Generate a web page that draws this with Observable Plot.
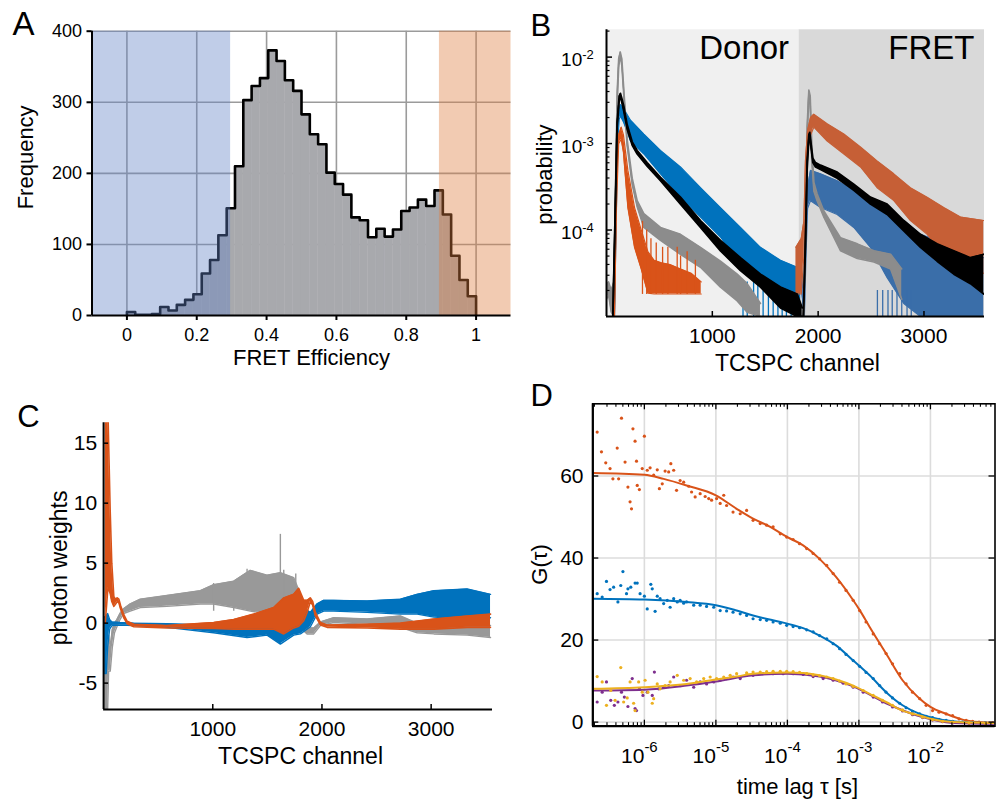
<!DOCTYPE html>
<html>
<head>
<meta charset="utf-8">
<script src="https://cdn.jsdelivr.net/npm/d3@7"></script>
<script src="https://cdn.jsdelivr.net/npm/@observablehq/plot@0.6"></script>
<style>
  html, body { margin: 0; padding: 0; background: #fff; }
  #fig { position: relative; width: 996px; height: 802px; overflow: hidden; background: #fff; }
  .panel { position: absolute; }
</style>
</head>
<body>
<div id="fig"></div>
<script>
const FONT = '"Liberation Sans", Arial, Helvetica, sans-serif';

// ---------------- Panel A: FRET efficiency histogram ----------------
const effBinWidth = 1 / 42;
const effCounts = [5, 1, 1, 2, 12, 7, 15, 22, 30, 59, 78, 113, 151, 210, 303, 323, 334, 373, 358, 331, 316,
  283, 255, 241, 201, 185, 170, 138, 134, 110, 122, 111, 121, 147, 152, 163, 154, 176, 142, 84, 50, 27];
const effTicks = [0, 0.2, 0.4, 0.6, 0.8, 1];
const effTickLabels = ["0", "0.2", "0.4", "0.6", "0.8", "1"];
const freqTicks = [0, 100, 200, 300, 400];
const shadeLow = [-0.1, 0.297];   // donor-only selection
const shadeHigh = [0.895, 1.1];   // high-FRET selection

// ---------------- Panel B: TCSPC decays (log10 probability bands) ----------------
const bRegionNames = ["Donor", "FRET"];
const bRegionStart = [0, 1820];
const bRegionEnd = [1820, 3572];
const bXTicks = [1000, 2000, 3000];
const bYTickExp = [-2, -3, -4];

const grayDonorCh = [0, 20, 45, 69, 85, 101, 115, 130, 145, 164, 195, 243, 290, 353, 510, 699, 888, 1077, 1235, 1329, 1455];
const grayDonorLo = [-4.80, -4.75, -4.95, -5.0, -3.70, -2.55, -2.12, -1.97, -2.10, -2.45, -3.02, -3.47, -3.73, -3.97, -4.12, -4.28, -4.43, -4.66, -4.82, -4.95, -5.0];
const grayDonorHi = [-4.62, -4.60, -4.70, -4.60, -3.50, -2.40, -2.02, -1.94, -2.02, -2.38, -2.95, -3.40, -3.66, -3.81, -3.97, -4.05, -4.20, -4.36, -4.51, -4.62, -4.85];
const grayFretCh = [1865, 1880, 1896, 1912, 1925, 1940, 1960, 1990, 2054, 2212, 2370, 2527, 2685, 2790];
const grayFretLo = [-5.0, -4.2, -3.0, -2.42, -2.55, -3.2, -3.55, -3.66, -3.85, -4.24, -4.33, -4.37, -4.45, -4.8];
const grayFretHi = [-4.9, -3.9, -2.8, -2.38, -2.45, -3.0, -3.45, -3.58, -3.78, -4.09, -4.16, -4.24, -4.28, -4.45];

const blackDonorCh = [60, 80, 100, 120, 132, 148, 164, 195, 243, 290, 384, 510, 699, 888, 1077, 1266, 1455, 1644, 1802, 1849];
const blackDonorLo = [-5.0, -4.0, -2.82, -2.5, -2.46, -2.54, -2.63, -2.83, -3.02, -3.12, -3.26, -3.43, -3.70, -3.97, -4.24, -4.47, -4.66, -4.90, -5.0, -5.0];
const blackDonorHi = [-5.0, -3.9, -2.76, -2.45, -2.42, -2.49, -2.57, -2.78, -2.98, -3.08, -3.22, -3.39, -3.62, -3.89, -4.12, -4.32, -4.51, -4.66, -4.74, -4.9];
const blackFretCh = [1860, 1880, 1896, 1912, 1921, 1935, 1950, 1975, 2022, 2180, 2337, 2494, 2652, 2809, 2967, 3124, 3282, 3439, 3565];
const blackFretLo = [-5.0, -4.2, -3.3, -2.95, -2.91, -3.07, -3.22, -3.27, -3.30, -3.40, -3.54, -3.70, -3.82, -4.01, -4.20, -4.36, -4.51, -4.62, -4.74];
const blackFretHi = [-5.0, -4.1, -3.2, -2.90, -2.87, -3.02, -3.17, -3.22, -3.25, -3.33, -3.47, -3.62, -3.70, -3.89, -4.05, -4.16, -4.24, -4.32, -4.28];

const blueDonorCh = [75, 90, 105, 120, 132, 164, 227, 353, 510, 699, 888, 1077, 1266, 1455, 1644, 1802, 1835];
const blueDonorLo = [-5.0, -4.0, -3.0, -2.72, -2.68, -2.76, -2.97, -3.12, -3.35, -3.62, -3.85, -4.08, -4.40, -4.60, -4.78, -4.88, -5.0];
const blueDonorHi = [-5.0, -3.8, -2.85, -2.60, -2.55, -2.60, -2.73, -2.89, -3.08, -3.27, -3.51, -3.74, -3.97, -4.20, -4.35, -4.43, -4.5];
const blueDonorDropCh = [1290, 1330, 1390, 1430, 1480, 1530, 1575, 1620, 1660, 1700, 1745, 1790];
const blueFretCh = [1835, 1870, 1885, 1900, 1928, 2022, 2180, 2337, 2494, 2652, 2809, 2967, 3124, 3282, 3439, 3565];
const blueFretLo = [-4.6, -5.0, -4.3, -3.75, -3.66, -3.74, -3.82, -3.97, -4.20, -4.55, -4.85, -5.0, -5.0, -5.0, -5.0, -5.0];
const blueFretHi = [-4.4, -4.9, -4.1, -3.5, -3.31, -3.35, -3.43, -3.54, -3.66, -3.81, -3.89, -4.05, -4.12, -4.20, -4.28, -4.32];
const blueFretDropCh = [2560, 2610, 2660, 2700, 2745, 2790, 2840, 2880];

const orangeDonorCh = [75, 95, 115, 139, 160, 202, 265, 328, 391, 450, 520, 600, 700, 800, 895];
const orangeDonorLo = [-5.0, -3.7, -3.0, -2.95, -3.10, -3.74, -4.2, -4.45, -4.73, -4.74, -4.74, -4.74, -4.74, -4.74, -4.74];
const orangeDonorHi = [-5.0, -3.4, -2.9, -2.81, -2.90, -3.31, -3.74, -4.0, -4.25, -4.35, -4.38, -4.40, -4.45, -4.5, -4.6];
const orangeDonorSpikeCh = [340, 380, 420, 470, 530, 580, 668, 700, 762, 840];
const orangeDonorSpikeTop = [-3.9, -4.0, -4.1, -4.15, -4.2, -4.2, -4.2, -4.3, -4.25, -4.35];
const orangeFretCh = [1790, 1840, 1865, 1880, 1900, 1928, 1959, 2085, 2243, 2400, 2557, 2715, 2872, 3030, 3187, 3345, 3565];
const orangeFretLo = [-4.74, -4.74, -4.3, -3.6, -3.1, -2.9, -2.81, -2.97, -3.12, -3.27, -3.51, -3.66, -3.89, -4.05, -4.28, -4.43, -4.5];
const orangeFretHi = [-4.2, -4.1, -3.9, -3.2, -2.85, -2.7, -2.66, -2.77, -2.89, -3.04, -3.20, -3.35, -3.51, -3.62, -3.74, -3.85, -3.89];

// ---------------- Panel C: photon weights ----------------
const cXTicks = [1000, 2000, 3000];
const cYTicks = [-5, 0, 5, 10, 15];

const cGrayCh = [10, 24, 37, 46, 61, 80, 100, 122, 150, 183, 244, 336, 580, 886, 1008, 1192, 1344, 1497, 1619, 1741, 1803, 1864, 1925, 1986, 2108, 2414, 2719, 2872, 3025, 3330, 3544];
const cGrayLo = [-7.2, -7.2, -7.2, -4, -4, -2, -0.8, -0.3, 0.3, 0.8, 1.0, 1.3, 1.4, 1.6, 1.6, 1.3, 1.0, 0.8, 0.5, 0.2, -0.4, -0.9, -0.9, -0.2, 0.05, -0.1, -0.35, -0.8, -0.9, -1.0, -1.2];
const cGrayHi = [0, -1, -3, -1, -2, -0.5, 0, 0.3, 0.8, 1.2, 1.6, 2.0, 2.3, 2.7, 3.2, 3.5, 4.4, 4.0, 4.2, 3.8, 2.4, -0.4, -0.4, 0.1, 0.45, 0.35, 0.6, 0, -0.2, -0.2, -0.2];
const cGraySpikeCh = [1008, 1192, 1314, 1405, 1497, 1619, 1650, 1760];
const cGraySpikeTop = [3.3, 3.0, 4.5, 4.1, 3.9, 7.4, 4.4, 4.1];

const cBlueCh = [10, 24, 37, 55, 76, 150, 275, 580, 1008, 1314, 1497, 1619, 1741, 1803, 1894, 1955, 2016, 2108, 2414, 2719, 2872, 3025, 3330, 3544];
const cBlueLo = [-4.2, -4.2, -2, -0.5, -0.2, -0.15, -0.2, -0.35, -0.8, -1.2, -1.0, -1.75, -1.0, -0.9, -0.3, 0.75, 1.0, 1.0, 0.9, 0.75, 0.75, 0.5, 0.35, 0.45];
const cBlueHi = [0.5, 0.6, 0.8, 0.3, 0.1, 0.05, 0, -0.05, -0.2, -0.1, 0.1, 0.2, 0.8, 1.4, 0.9, 1.6, 1.9, 1.9, 1.85, 2.0, 2.4, 2.7, 2.85, 2.4];

const cOrangeCh = [15, 40, 60, 75, 94, 110, 125, 140, 155, 185, 216, 277, 580, 1008, 1192, 1375, 1558, 1650, 1741, 1787, 1833, 1864, 1894, 1915, 1940, 1986, 2047, 2414, 2719, 3025, 3330, 3544];
const cOrangeLo = [0, 3, 2.5, 1.8, 1.4, 1.6, 1.8, 1.7, 1.2, 0.45, -0.05, -0.3, -0.4, -0.45, -0.5, -0.5, -0.5, -0.9, -0.4, -0.25, 0.2, 0.9, 1.8, 1.5, 0.6, -0.15, -0.35, -0.4, -0.5, -0.5, -0.35, -0.35];
const cOrangeHi = [17.5, 17.5, 9.5, 5, 2.2, 2.0, 2.1, 2.0, 1.5, 0.7, 0.15, -0.1, -0.2, 0.05, 0.3, 0.75, 1.3, 2.1, 2.4, 2.9, 1.9, 1.9, 2.1, 1.8, 0.9, 0.05, -0.15, -0.1, 0, 0.35, 0.6, 0.75];

// ---------------- Panel D: correlation curves (log10 lag time, G) ----------------
const dXTickExp = [-6, -5, -4, -3, -2];
const dYTicks = [0, 20, 40, 60];

const orangeFitLogTau = [-6.72, -6.0, -5.73, -5.41, -5.0, -4.71, -4.48, -4.24, -4.0, -3.78, -3.55, -3.32, -3.08, -3.0, -2.85, -2.62, -2.39, -2.15, -2.0, -1.78, -1.55, -1.32, -1.1];
const orangeFitG = [60.7, 60.3, 59.3, 57.7, 55.3, 52.0, 49.6, 47.6, 45.1, 43.1, 39.8, 35.4, 29.7, 27.6, 23.2, 16.7, 10.2, 5.7, 3.7, 2.0, 0.6, 0, -0.2];
const blueFitLogTau = [-6.72, -6.0, -5.41, -5.0, -4.71, -4.48, -4.0, -3.78, -3.55, -3.32, -3.08, -3.0, -2.85, -2.62, -2.39, -2.15, -2.0, -1.69, -1.32, -1.1];
const blueFitG = [30.1, 29.9, 29.3, 28.5, 27.2, 26.0, 24.0, 22.9, 21.1, 18.7, 15.0, 13.8, 11.4, 7.3, 4.1, 2.0, 1.2, 0.2, -0.15, -0.2];
const yellowFitLogTau = [-6.72, -6.0, -5.64, -5.41, -5.0, -4.71, -4.48, -4.0, -3.78, -3.55, -3.32, -3.08, -2.85, -2.62, -2.39, -2.15, -2.0, -1.69, -1.1];
const yellowFitG = [8.1, 8.5, 8.9, 9.3, 10.4, 11.1, 11.8, 12.1, 12.0, 11.4, 10.4, 8.9, 6.9, 4.9, 2.8, 1.6, 0.8, 0, -0.2];
const purpleFitLogTau = [-6.72, -6.0, -5.41, -5.0, -4.48, -4.0, -3.55, -3.08, -2.62, -2.15, -1.69, -1.1];
const purpleFitG = [7.7, 7.9, 8.9, 9.9, 11.4, 11.8, 11.1, 8.7, 4.6, 1.4, -0.2, -0.4];

const orangeDotLogTau = [-6.66, -6.60, -6.54, -6.48, -6.44, -6.38, -6.36, -6.32, -6.27, -6.23, -6.20, -6.18, -6.16, -6.13, -6.11, -6.10, -6.07, -6.00, -6.03, -5.96, -5.92, -5.87, -5.82, -5.79, -5.75, -5.71, -5.66, -5.63, -5.59, -5.55, -5.50, -5.45, -5.38, -5.34, -5.29, -5.22, -5.15, -5.10, -5.06, -4.99, -4.94, -4.89, -4.85, -4.76, -4.66, -4.57, -4.48, -4.38, -4.29, -4.20, -4.10, -4.01, -3.92, -3.83, -3.73, -3.64, -3.55, -3.45, -3.36, -3.27, -3.18, -3.08, -2.99, -2.90, -2.80, -2.71, -2.62, -2.53, -2.43, -2.34, -2.25, -2.15, -2.06, -1.97, -1.88, -1.78, -1.69, -1.60, -1.50, -1.41, -1.32, -1.23, -1.13];
const orangeDotG = [70.7, 65.9, 63.2, 61.8, 59.3, 66.8, 59.3, 74.1, 63.4, 57.3, 53.7, 52.0, 71.5, 68.5, 63.6, 57.7, 56.7, 69.7, 61.8, 61.4, 62.0, 60.2, 61.5, 56.9, 58.1, 61.2, 61.0, 63.0, 61.4, 56.5, 58.9, 58.5, 57.5, 56.1, 54.9, 55.7, 55.0, 54.5, 54.1, 54.5, 53.3, 55.3, 52.8, 51.2, 50.8, 51.6, 49.2, 48.4, 48.0, 47.6, 45.9, 45.1, 44.5, 43.5, 42.3, 41.1, 39.8, 38.2, 36.2, 34.1, 32.1, 29.7, 27.2, 24.4, 21.5, 19.1, 16.7, 14.2, 11.8, 9.3, 7.3, 5.7, 4.1, 2.8, 2.4, 2.0, 1.6, 0.8, 0.4, 0.2, 0, -0.1, -0.2];
const blueDotLogTau = [-6.66, -6.59, -6.53, -6.48, -6.43, -6.37, -6.33, -6.30, -6.25, -6.23, -6.19, -6.13, -6.10, -6.06, -6.00, -5.96, -5.91, -5.89, -5.85, -5.82, -5.78, -5.73, -5.68, -5.64, -5.59, -5.54, -5.50, -5.45, -5.41, -5.31, -5.22, -5.13, -5.03, -4.94, -4.85, -4.76, -4.66, -4.57, -4.48, -4.38, -4.29, -4.20, -4.10, -4.01, -3.92, -3.83, -3.73, -3.64, -3.55, -3.45, -3.36, -3.27, -3.18, -3.08, -2.99, -2.90, -2.80, -2.71, -2.62, -2.53, -2.43, -2.34, -2.25, -2.15, -2.06, -1.97, -1.88, -1.78, -1.69, -1.55, -1.41, -1.23];
const blueDotG = [31.3, 30.5, 34.3, 32.3, 32.9, 29.3, 33.3, 36.7, 31.3, 32.5, 32.9, 33.9, 33.9, 31.3, 30.7, 27.6, 33.6, 32.5, 27.0, 30.7, 30.1, 28.9, 29.7, 28.0, 30.1, 29.3, 29.7, 29.0, 29.3, 28.5, 28.5, 28.2, 28.0, 27.2, 27.1, 26.8, 26.4, 26.0, 25.2, 25.0, 24.8, 24.4, 24.1, 23.6, 23.3, 23.0, 22.5, 22.0, 21.1, 20.3, 19.1, 17.9, 16.5, 15.0, 13.6, 12.1, 10.6, 8.9, 7.3, 5.9, 4.6, 3.5, 2.6, 2.0, 1.4, 1.1, 0.7, 0.4, 0.2, 0, -0.2, -0.2];
const yellowDotLogTau = [-6.66, -6.59, -6.53, -6.47, -6.41, -6.33, -6.29, -6.24, -6.20, -6.15, -6.13, -6.08, -6.03, -5.99, -5.95, -5.89, -5.87, -5.82, -5.78, -5.71, -5.64, -5.54, -5.45, -5.36, -5.27, -5.17, -5.08, -4.99, -4.89, -4.80, -4.71, -4.57, -4.48, -4.38, -4.29, -4.20, -4.10, -4.01, -3.92, -3.83, -3.73, -3.64, -3.55, -3.45, -3.36, -3.27, -3.18, -3.08, -2.94, -2.80, -2.67, -2.53, -2.39, -2.25, -2.11, -1.97, -1.83, -1.69, -1.46, -1.23];
const yellowDotG = [11.1, 9.8, 4.1, 7.7, 5.3, 13.3, 4.9, 5.9, 9.8, 4.6, 2.8, 9.8, 7.3, 10.2, 7.3, 4.6, 5.7, 9.3, 8.1, 8.9, 9.8, 11.4, 10.2, 10.6, 9.8, 10.6, 11.0, 10.6, 11.0, 11.4, 11.8, 12.0, 12.2, 12.2, 12.3, 12.4, 12.4, 12.4, 12.3, 12.1, 11.8, 11.5, 11.3, 11.0, 10.6, 10.0, 9.3, 8.7, 7.7, 6.5, 5.3, 4.1, 3.0, 2.0, 1.2, 0.6, 0.2, 0, -0.2, -0.3];
const purpleDotLogTau = [-6.66, -6.59, -6.53, -6.47, -6.42, -6.37, -6.32, -6.28, -6.23, -6.17, -6.13, -6.11, -6.07, -6.02, -5.96, -5.89, -5.86, -5.80, -5.73, -5.66, -5.59, -5.50, -5.41, -5.31, -5.22, -5.13, -5.03, -4.94, -4.85, -4.76, -4.66, -4.57, -4.48, -4.34, -4.20, -4.06, -3.92, -3.78, -3.64, -3.50, -3.36, -3.22, -3.08, -2.94, -2.80, -2.67, -2.53, -2.39, -2.25, -2.11, -1.97, -1.83, -1.69, -1.46, -1.23];
const purpleDotG = [4.9, 7.3, 9.8, 5.3, 4.1, 4.9, 7.3, 6.1, 3.8, 10.6, 3.3, 2.8, 8.1, 6.5, 7.3, 6.5, 12.2, 8.1, 8.5, 8.9, 11.0, 8.9, 10.2, 8.5, 9.8, 9.3, 9.8, 10.2, 10.6, 11.0, 10.6, 11.4, 11.4, 11.8, 11.8, 11.8, 11.8, 11.6, 11.1, 10.6, 10.2, 9.5, 8.5, 7.3, 6.1, 4.9, 3.7, 2.7, 1.8, 1.1, 0.5, 0.1, -0.2, -0.3, -0.4];

// ---------------- colours ----------------
const C_ORANGE = "#d95319", C_BLUE = "#0072bd", C_YELLOW = "#edb120", C_PURPLE = "#7e2f8e";
const C_ORANGE_FRET = "#c65f36", C_BLUE_FRET = "#3a6ea9", C_GRAY = "#8c8c8c";

// ---------------- helpers ----------------
const fig = document.getElementById("fig");
function place(node, left, top) {
  const d = document.createElement("div");
  d.className = "panel";
  d.style.left = left + "px";
  d.style.top = top + "px";
  d.appendChild(node);
  fig.appendChild(d);
}
function band(ch, lo, hi, map = v => v) {
  return ch.map((c, i) => ({ch: c, lo: map(lo[i]), hi: map(hi[i])}));
}
function bandMarks(rows, color, edge) {
  return [
    Plot.areaY(rows, {x: "ch", y1: "lo", y2: "hi", fill: color, clip: true}),
    Plot.line(rows, {x: "ch", y: "lo", stroke: color, strokeWidth: edge, clip: true}),
    Plot.line(rows, {x: "ch", y: "hi", stroke: color, strokeWidth: edge, clip: true})
  ];
}
function pts(xs, ys) { return xs.map((x, i) => ({tau: 10 ** x, g: ys[i]})); }
const pow10 = e => 10 ** e;
const baseStyle = {fontFamily: FONT, background: "transparent", overflow: "visible", color: "#000"};

// ================= Panel A =================
{
  const W = 520, H = 380, mL = 91.5, mR = 9.5, mT = 30.7, mB = 65;
  const pw = W - mL - mR, ph = H - mT - mB;
  const hist = effCounts.map((n, k) => ({x1: k * effBinWidth, x2: (k + 1) * effBinWidth, n}));
  const outline = [{x: 0, y: 0}, ...effCounts.map((n, k) => ({x: k * effBinWidth, y: n})), {x: effCounts.length * effBinWidth, y: 0}];
  const svg = Plot.plot({
    width: W, height: H, marginLeft: mL, marginRight: mR, marginTop: mT, marginBottom: mB,
    style: baseStyle,
    x: {domain: [-0.1, 1.1], axis: null},
    y: {domain: [0, 400], axis: null},
    marks: [
      Plot.ruleX(effTicks, {stroke: "#9b9b9b", strokeWidth: 1.6}),
      Plot.ruleY(freqTicks.slice(1), {stroke: "#9b9b9b", strokeWidth: 1.6}),
      Plot.rectY(hist, {x1: "x1", x2: "x2", y: "n", fill: "#a8a9ad", stroke: "#a8a9ad", strokeWidth: 0.4, insetLeft: 0, insetRight: 0}),
      Plot.line(outline, {x: "x", y: "y", curve: "step-after", stroke: "#000", strokeWidth: 2.6}),
      Plot.rect([shadeLow], {x1: d => d[0], x2: d => d[1], fill: "#6182c5", fillOpacity: 0.4}),
      Plot.rect([shadeHigh], {x1: d => d[0], x2: d => d[1], fill: "#de7d3e", fillOpacity: 0.4}),
      Plot.ruleX([-0.1], {stroke: "#000", strokeWidth: 2}),
      Plot.ruleY([0], {stroke: "#000", strokeWidth: 2}),
      Plot.tickX(effTicks, {x: d => d, insetTop: ph, insetBottom: -5, stroke: "#000", strokeWidth: 2}),
      Plot.tickY(freqTicks, {y: d => d, insetRight: pw, insetLeft: -5, stroke: "#000", strokeWidth: 2}),
      Plot.text(effTicks, {x: d => d, text: (d, i) => effTickLabels[i], frameAnchor: "bottom", lineAnchor: "bottom", dy: 25, fontSize: 18}),
      Plot.text(freqTicks, {y: d => d, text: d => String(d), frameAnchor: "left", textAnchor: "end", dx: -10, fontSize: 18}),
      Plot.text(["FRET Efficiency"], {frameAnchor: "bottom", textAnchor: "middle", lineAnchor: "bottom", dx: 10, dy: 49, fontSize: 22}),
      Plot.text(["Frequency"], {frameAnchor: "left", textAnchor: "middle", lineAnchor: "bottom", rotate: -90, dx: -59, dy: -16, fontSize: 22}),
      Plot.text(["A"], {frameAnchor: "top-left", textAnchor: "start", lineAnchor: "bottom", dx: -79.5, dy: 3.3, fontSize: 33})
    ]
  });
  place(svg, 0, 0);
}

// ================= Panel B =================
{
  const W = 476, H = 380, mL = 86, mR = 12, mT = 29.3, mB = 64;
  const pw = W - mL - mR, ph = H - mT - mB;
  const yMax = 0.0207;
  const regions = bRegionNames.map((name, i) => ({name, start: bRegionStart[i], end: bRegionEnd[i]}));
  const minor = [];
  for (const e of [-5, -4, -3, -2]) for (let m = 2; m <= 9; m++) { const v = m * 10 ** e; if (v < yMax) minor.push(v); }
  const blueDonor = band(blueDonorCh, blueDonorLo, blueDonorHi, pow10);
  const blueFret = band(blueFretCh, blueFretLo, blueFretHi, pow10);
  const orangeSpikes = orangeDonorSpikeCh.map((c, i) => ({ch: c, top: pow10(orangeDonorSpikeTop[i])}));
  const svg = Plot.plot({
    width: W, height: H, marginLeft: mL, marginRight: mR, marginTop: mT, marginBottom: mB,
    style: baseStyle,
    x: {domain: [0, 3572], axis: null},
    y: {type: "log", domain: [1e-5, yMax], axis: null},
    marks: [
      Plot.rect(regions.slice(0, 1), {x1: "start", x2: "end", fill: "#f0f0f0"}),
      Plot.rect(regions.slice(1), {x1: "start", x2: "end", fill: "#d9d9d9"}),
      ...bandMarks(blueDonor, C_BLUE, 1.2),
      Plot.ruleX(blueDonorDropCh, {x: d => d, y1: 1e-5, y2: 2.5e-5, stroke: C_BLUE, strokeWidth: 1.3}),
      ...bandMarks(blueFret, C_BLUE_FRET, 1.2),
      Plot.ruleX(blueFretDropCh, {x: d => d, y1: 1e-5, y2: 2e-5, stroke: C_BLUE_FRET, strokeWidth: 1.3}),
      ...bandMarks(band(grayDonorCh, grayDonorLo, grayDonorHi, pow10), C_GRAY, 1.6),
      ...bandMarks(band(grayFretCh, grayFretLo, grayFretHi, pow10), C_GRAY, 1.6),
      ...bandMarks(band(orangeDonorCh, orangeDonorLo, orangeDonorHi, pow10), C_ORANGE, 1.2),
      Plot.ruleX(orangeSpikes, {x: "ch", y1: 1.8e-5, y2: "top", stroke: C_ORANGE, strokeWidth: 1.3}),
      ...bandMarks(band(orangeFretCh, orangeFretLo, orangeFretHi, pow10), C_ORANGE_FRET, 1.2),
      ...bandMarks(band(blackDonorCh, blackDonorLo, blackDonorHi, pow10), "#000", 1.8),
      ...bandMarks(band(blackFretCh, blackFretLo, blackFretHi, pow10), "#000", 1.8),
      Plot.text(regions, {x: "end", text: "name", frameAnchor: "top", textAnchor: "end", lineAnchor: "bottom", dx: -10, dy: 29, fontSize: 33}),
      Plot.ruleX([0], {stroke: "#000", strokeWidth: 2}),
      Plot.ruleY([1e-5], {stroke: "#000", strokeWidth: 2}),
      Plot.tickY(bYTickExp.map(pow10), {y: d => d, insetLeft: 0, insetRight: pw - 6, stroke: "#000", strokeWidth: 1.5}),
      Plot.tickY(minor, {y: d => d, insetLeft: 0, insetRight: pw - 3.5, stroke: "#000", strokeWidth: 1.2}),
      Plot.tickX(bXTicks, {x: d => d, insetTop: ph - 5, stroke: "#000", strokeWidth: 1.5}),
      Plot.text(bXTicks, {x: d => d, text: d => String(d), frameAnchor: "bottom", lineAnchor: "bottom", dy: 26, fontSize: 21}),
      Plot.text(bYTickExp, {y: pow10, text: () => "10", frameAnchor: "left", textAnchor: "end", lineAnchor: "bottom", dx: -24.3, dy: 9, fontSize: 19}),
      Plot.text(bYTickExp, {y: pow10, text: d => String(d), frameAnchor: "left", textAnchor: "start", lineAnchor: "bottom", dx: -24.3, dy: 2, fontSize: 13}),
      Plot.text(["TCSPC channel"], {frameAnchor: "bottom", textAnchor: "middle", lineAnchor: "bottom", dx: 2, dy: 54, fontSize: 23}),
      Plot.text(["probability"], {frameAnchor: "left", textAnchor: "middle", lineAnchor: "bottom", rotate: -90, dx: -55, dy: 1.5, fontSize: 22}),
      Plot.text(["B"], {frameAnchor: "top-left", textAnchor: "start", lineAnchor: "bottom", dx: -76, dy: 5.7, fontSize: 31})
    ]
  });
  place(svg, 520, 0);
}

// ================= Panel C =================
{
  const W = 520, H = 422, mL = 103.1, mR = 28, mT = 42.3, mB = 93;
  const pw = W - mL - mR, ph = H - mT - mB;
  const spikes = cGraySpikeCh.map((c, i) => ({ch: c, top: cGraySpikeTop[i]}));
  const svg = Plot.plot({
    width: W, height: H, marginLeft: mL, marginRight: mR, marginTop: mT, marginBottom: mB,
    style: baseStyle,
    x: {domain: [0, 3562], axis: null},
    y: {domain: [-7.2, 16.7], axis: null},
    marks: [
      ...bandMarks(band(cGrayCh, cGrayLo, cGrayHi), "#999999", 1.4),
      Plot.ruleX(spikes, {x: "ch", y1: 1, y2: "top", stroke: "#999999", strokeWidth: 1.4, clip: true}),
      ...bandMarks(band(cBlueCh, cBlueLo, cBlueHi), C_BLUE, 1.4),
      ...bandMarks(band(cOrangeCh, cOrangeLo, cOrangeHi), C_ORANGE, 1.6),
      Plot.ruleX([0], {stroke: "#000", strokeWidth: 2}),
      Plot.ruleY([-7.2], {stroke: "#000", strokeWidth: 2}),
      Plot.tickY(cYTicks, {y: d => d, insetLeft: 0, insetRight: pw - 5, stroke: "#000", strokeWidth: 1.5}),
      Plot.tickX(cXTicks, {x: d => d, insetTop: ph - 5, stroke: "#000", strokeWidth: 1.5}),
      Plot.text(cXTicks, {x: d => d, text: d => String(d), frameAnchor: "bottom", lineAnchor: "bottom", dy: 26, fontSize: 21}),
      Plot.text(cYTicks, {y: d => d, text: d => String(d), frameAnchor: "left", textAnchor: "end", dx: -6.4, fontSize: 21}),
      Plot.text(["TCSPC channel"], {frameAnchor: "bottom", textAnchor: "middle", lineAnchor: "bottom", dx: 2.5, dy: 54, fontSize: 23}),
      Plot.text(["photon weights"], {frameAnchor: "left", textAnchor: "middle", lineAnchor: "bottom", rotate: -90, dx: -37, dy: 1.8, fontSize: 23}),
      Plot.text(["C"], {frameAnchor: "top-left", textAnchor: "start", lineAnchor: "bottom", dx: -86.4, dy: 4.4, fontSize: 31})
    ]
  });
  place(svg, 0, 380);
}

// ================= Panel D =================
{
  const W = 476, H = 422, mL = 72.3, mR = 1.5, mT = 23.3, mB = 76.3;
  const pw = W - mL - mR, ph = H - mT - mB;
  const xDom = [1.9e-7, 0.08];
  const minor = [];
  for (const e of [-7, -6, -5, -4, -3, -2]) for (let m = 2; m <= 9; m++) { const v = m * 10 ** e; if (v > xDom[0] && v < xDom[1]) minor.push(v); }
  const major = dXTickExp.map(pow10);
  const svg = Plot.plot({
    width: W, height: H, marginLeft: mL, marginRight: mR, marginTop: mT, marginBottom: mB,
    style: baseStyle,
    x: {type: "log", domain: xDom, axis: null},
    y: {domain: [-1, 77.6], axis: null},
    marks: [
      Plot.ruleX(major, {stroke: "#dcdcdc", strokeWidth: 1.6}),
      Plot.ruleY(dYTicks, {stroke: "#dcdcdc", strokeWidth: 1.6}),
      Plot.dot(pts(orangeDotLogTau, orangeDotG), {x: "tau", y: "g", r: 1.6, fill: C_ORANGE, stroke: null, clip: true}),
      Plot.line(pts(orangeFitLogTau, orangeFitG), {x: "tau", y: "g", stroke: C_ORANGE, strokeWidth: 2, curve: "monotone-x", clip: true}),
      Plot.dot(pts(blueDotLogTau, blueDotG), {x: "tau", y: "g", r: 1.6, fill: C_BLUE, stroke: null, clip: true}),
      Plot.line(pts(blueFitLogTau, blueFitG), {x: "tau", y: "g", stroke: C_BLUE, strokeWidth: 2, curve: "monotone-x", clip: true}),
      Plot.dot(pts(purpleDotLogTau, purpleDotG), {x: "tau", y: "g", r: 1.6, fill: C_PURPLE, stroke: null, clip: true}),
      Plot.line(pts(purpleFitLogTau, purpleFitG), {x: "tau", y: "g", stroke: C_PURPLE, strokeWidth: 2, curve: "monotone-x", clip: true}),
      Plot.dot(pts(yellowDotLogTau, yellowDotG), {x: "tau", y: "g", r: 1.6, fill: C_YELLOW, stroke: null, clip: true}),
      Plot.line(pts(yellowFitLogTau, yellowFitG), {x: "tau", y: "g", stroke: C_YELLOW, strokeWidth: 2, curve: "monotone-x", clip: true}),
      Plot.frame({stroke: "#000", strokeWidth: 1.6}),
      Plot.ruleX([xDom[0]], {stroke: "#000", strokeWidth: 2.2}),
      Plot.ruleY([-1], {stroke: "#000", strokeWidth: 2.2}),
      Plot.tickX(major, {x: d => d, insetTop: ph - 6, stroke: "#000", strokeWidth: 1.3}),
      Plot.tickX(major, {x: d => d, insetBottom: ph - 6, stroke: "#000", strokeWidth: 1.3}),
      Plot.tickX(minor, {x: d => d, insetTop: ph - 3.5, stroke: "#000", strokeWidth: 1.1}),
      Plot.tickX(minor, {x: d => d, insetBottom: ph - 3.5, stroke: "#000", strokeWidth: 1.1}),
      Plot.tickY(dYTicks, {y: d => d, insetRight: pw - 6, stroke: "#000", strokeWidth: 1.3}),
      Plot.tickY(dYTicks, {y: d => d, insetLeft: pw - 6, stroke: "#000", strokeWidth: 1.3}),
      Plot.text(dXTickExp, {x: pow10, text: () => "10", frameAnchor: "bottom", textAnchor: "end", lineAnchor: "bottom", dy: 36.3, fontSize: 21}),
      Plot.text(dXTickExp, {x: pow10, text: d => String(d), frameAnchor: "bottom", textAnchor: "start", lineAnchor: "bottom", dy: 26, fontSize: 15}),
      Plot.text(dYTicks, {y: d => d, text: d => String(d), frameAnchor: "left", textAnchor: "end", dx: -9.3, fontSize: 21}),
      Plot.text(["time lag τ [s]"], {frameAnchor: "bottom", textAnchor: "middle", lineAnchor: "bottom", dx: 3.5, dy: 67.3, fontSize: 22}),
      Plot.text(["G(τ)"], {frameAnchor: "left", textAnchor: "middle", lineAnchor: "bottom", rotate: -90, dx: -46.3, dy: -0.5, fontSize: 22}),
      Plot.text(["D"], {frameAnchor: "top-left", textAnchor: "start", lineAnchor: "bottom", dx: -62.3, dy: 2.4, fontSize: 31})
    ]
  });
  place(svg, 520, 380);
}
</script>
</body>
</html>
